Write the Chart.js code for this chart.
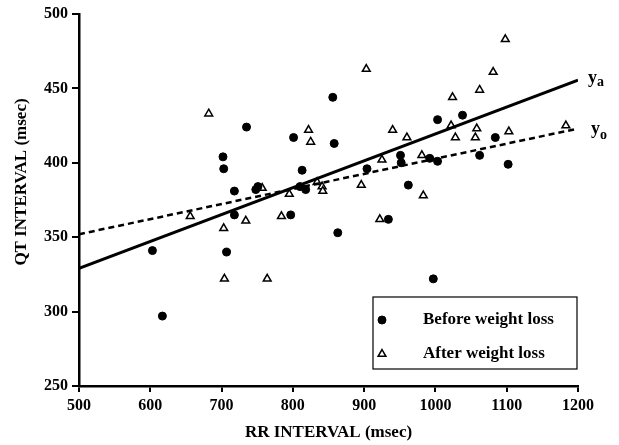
<!DOCTYPE html>
<html>
<head>
<meta charset="utf-8">
<script src="https://cdn.jsdelivr.net/npm/chart.js@4.4.1/dist/chart.umd.min.js"></script>
<style>
  html, body { margin: 0; padding: 0; background: #fff; }
  #wrap { width: 619px; height: 445px; }
</style>
</head>
<body>
<div id="wrap"><canvas id="qtChart" width="619" height="445"></canvas></div>
<script>
// RR interval (msec) / QT interval (msec)
var beforeRR = [603, 617, 702, 703, 707, 718, 718, 735, 748, 751, 797, 801, 810, 813, 818,
                856, 858, 863, 904, 934, 951, 952, 962, 992, 997, 1003, 1003, 1038, 1062, 1084, 1102];
var beforeQT = [341, 297, 404, 396, 340, 381, 365, 424, 382, 384, 365, 417, 384, 395, 382,
                444, 413, 353, 396, 362, 405, 400, 385, 403, 322, 429, 401, 432, 405, 417, 399];

var afterRR = [656, 682, 703, 704, 734, 757, 764, 784, 795, 822, 825, 834, 841, 842, 896, 903,
               922, 925, 940, 960, 981, 983, 1022, 1024, 1028, 1056, 1058, 1062, 1081, 1098, 1103, 1183];
var afterQT = [364, 433, 356, 322, 361, 383, 322, 364, 379, 422, 414, 387, 384, 381, 385, 463,
               362, 402, 422, 417, 405, 378, 425, 444, 417, 417, 423, 449, 461, 483, 421, 425];

// regression lines, value at RR = 500 and RR = 1200
var lineRR = [500, 1200];
var yaQT = [329, 455.5];
var yoQT = [352, 423];

var seriesNames = ['Before weight loss', 'After weight loss'];
var xTicks = [500, 600, 700, 800, 900, 1000, 1100, 1200];
var yTicks = [250, 300, 350, 400, 450, 500];

function pairs(xs, ys) {
    return xs.map(function (v, i) { return { x: v, y: ys[i] }; });
}

var serif = '"Liberation Serif", "DejaVu Serif", serif';

// legend box, y axis title and the y_a / y_o line labels
var extras = {
    id: 'extras',
    afterDraw: function (chart) {
        var ctx = chart.ctx;
        var area = chart.chartArea;
        var xs = chart.scales.x, ys = chart.scales.y;
        ctx.save();

        // y axis title
        ctx.fillStyle = '#000';
        ctx.font = 'bold 17px ' + serif;
        ctx.textAlign = 'center';
        ctx.textBaseline = 'middle';
        ctx.translate(22, 182);
        ctx.rotate(-Math.PI / 2);
        ctx.fillText('QT INTERVAL (msec)', 0, 0);
        ctx.setTransform(1, 0, 0, 1, 0, 0);

        // line labels
        ctx.textAlign = 'left';
        ctx.textBaseline = 'alphabetic';
        var ex = xs.getPixelForValue(lineRR[1]);
        var ya = ys.getPixelForValue(yaQT[1]);
        var yo = ys.getPixelForValue(yoQT[1]);
        ctx.font = 'bold 18px ' + serif;
        ctx.fillText('y', ex + 10, ya + 3);
        ctx.fillText('y', ex + 13, yo + 5);
        ctx.font = 'bold 14px ' + serif;
        ctx.fillText('a', ex + 19, ya + 6);
        ctx.fillText('o', ex + 22, yo + 10);

        // legend
        var bx = area.right - 205, by = area.bottom - 89, bw = 204, bh = 72;
        ctx.fillStyle = '#fff';
        ctx.fillRect(bx, by, bw, bh);
        ctx.strokeStyle = '#000';
        ctx.lineWidth = 1.2;
        ctx.strokeRect(bx, by, bw, bh);
        ctx.font = 'bold 17px ' + serif;
        ctx.textBaseline = 'middle';
        chart.data.datasets.slice(2).forEach(function (ds, i) {
            var cy = by + 23 + i * 34;
            ctx.fillStyle = ds.backgroundColor;
            ctx.strokeStyle = ds.borderColor;
            ctx.lineWidth = ds.borderWidth;
            Chart.helpers.drawPoint(ctx, {
                pointStyle: ds.pointStyle,
                radius: ds.pointRadius,
                borderWidth: ds.borderWidth
            }, bx + 9, cy);
            ctx.fillStyle = '#000';
            ctx.fillText(ds.label, bx + 50, cy);
        });
        ctx.restore();
    }
};

var ctx = document.getElementById('qtChart').getContext('2d');
var qtChart = new Chart(ctx, {
    type: 'scatter',
    data: {
        datasets: [
            {
                type: 'line',
                label: 'ya',
                data: pairs(lineRR, yaQT),
                borderColor: '#000',
                borderWidth: 3,
                pointRadius: 0,
                order: 0
            },
            {
                type: 'line',
                label: 'yo',
                data: pairs(lineRR, yoQT),
                borderColor: '#000',
                borderWidth: 2.5,
                borderDash: [6, 4],
                pointRadius: 0,
                order: 0
            },
            {
                label: seriesNames[0],
                data: pairs(beforeRR, beforeQT),
                pointStyle: 'circle',
                pointRadius: 4,
                backgroundColor: '#000',
                borderColor: '#000',
                borderWidth: 1,
                order: 1
            },
            {
                label: seriesNames[1],
                data: pairs(afterRR, afterQT),
                pointStyle: 'triangle',
                pointRadius: 4.5,
                backgroundColor: '#fff',
                borderColor: '#000',
                borderWidth: 1.5,
                order: 1
            }
        ]
    },
    options: {
        responsive: false,
        animation: false,
        layout: { padding: { top: 14, right: 41, left: 0, bottom: 0 } },
        plugins: {
            legend: { display: false },
            tooltip: { enabled: false }
        },
        scales: {
            x: {
                type: 'linear',
                min: 500,
                max: 1200,
                afterFit: function (scale) { scale.height = 59; },
                afterBuildTicks: function (scale) {
                    scale.ticks = xTicks.map(function (v) { return { value: v }; });
                },
                border: { display: true, color: '#000', width: 2.5 },
                grid: { drawOnChartArea: false, drawTicks: true, tickLength: 6, color: '#000', lineWidth: 2 },
                ticks: {
                    color: '#000',
                    padding: 4,
                    maxRotation: 0,
                    callback: function (v) { return String(v); },
                    font: { family: serif, size: 16, weight: 'bold' }
                },
                title: {
                    display: true,
                    text: 'RR INTERVAL (msec)',
                    color: '#000',
                    padding: { top: 0, bottom: 2 },
                    font: { family: serif, size: 17, weight: 'bold' }
                }
            },
            y: {
                type: 'linear',
                min: 250,
                max: 500,
                afterFit: function (scale) { scale.width = 79; },
                afterBuildTicks: function (scale) {
                    scale.ticks = yTicks.map(function (v) { return { value: v }; });
                },
                border: { display: true, color: '#000', width: 2.5 },
                grid: { drawOnChartArea: false, drawTicks: true, tickLength: 7, color: '#000', lineWidth: 2 },
                ticks: {
                    color: '#000',
                    padding: 4,
                    callback: function (v) { return String(v); },
                    font: { family: serif, size: 16, weight: 'bold' }
                }
            }
        }
    },
    plugins: [extras]
});
</script>
</body>
</html>
